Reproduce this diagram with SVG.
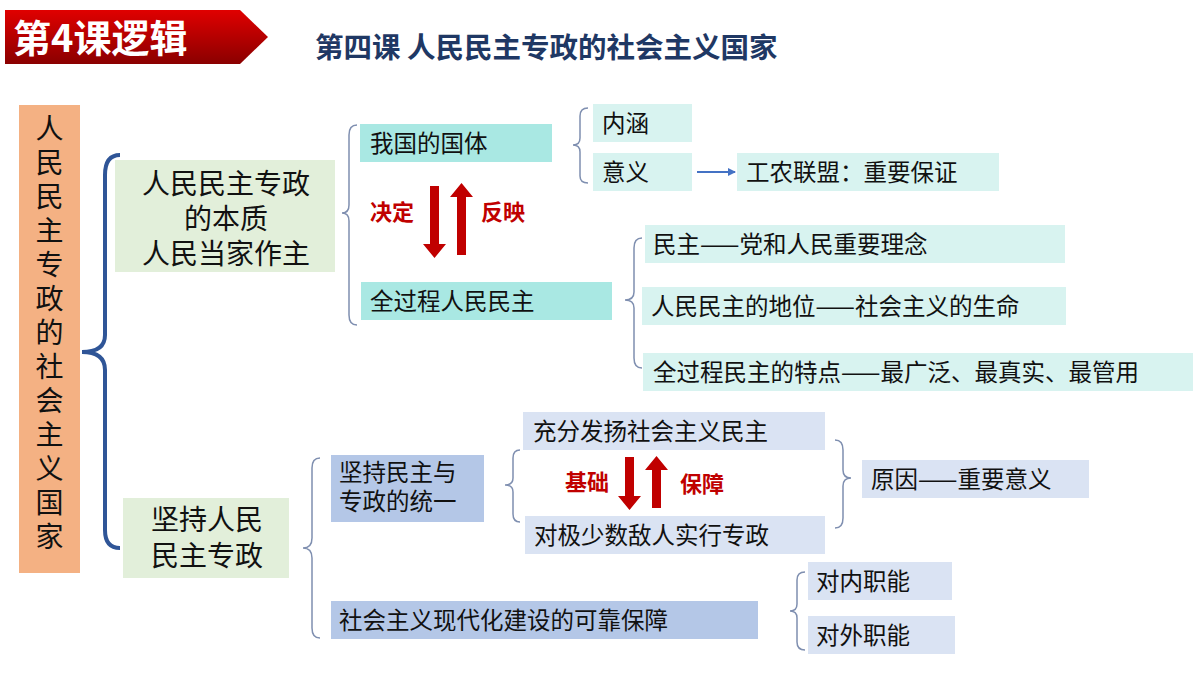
<svg xmlns="http://www.w3.org/2000/svg" width="1200" height="675" viewBox="0 0 1200 675">
<defs>
<linearGradient id="rg" x1="0" y1="0" x2="0" y2="1"><stop offset="0" stop-color="#e00000"/><stop offset="1" stop-color="#8a0000"/></linearGradient>
<marker id="ba" markerWidth="8" markerHeight="8" refX="7" refY="4" orient="auto" markerUnits="userSpaceOnUse"><path d="M0,0 L8,4 L0,8 Z" fill="#4472c4"/></marker>
</defs>
<style>
text{font-family:"Noto Sans CJK SC","Noto Sans",sans-serif;fill:#111;font-size:23.5px}
.t{fill:#a9e8e3}.l{fill:#d8f3f0}.g{fill:#e2efda}.b{fill:#b4c7e7}.p{fill:#dae3f3}
.br{fill:none;stroke:#7f8fb0;stroke-width:1.5}
.rd{fill:#c00000;font-weight:bold;font-size:22px}
.ra{fill:#c00000}
.big{font-size:28px}
.v{font-size:28px}
</style>
<rect width="1200" height="675" fill="#fff"/>
<g id="banner"><path d="M5,10 H240 L268,37 L240,64 H5 Z" fill="url(#rg)"/><text x="13" y="52" style="fill:#fff;font-weight:bold;font-size:38px">第4课逻辑</text></g>
<text x="315" y="58" style="fill:#1f3864;font-weight:bold;font-size:28.5px">第四课 人民民主专政的社会主义国家</text>
<g id="root"><rect x="19" y="105" width="61" height="468" fill="#f4b183"/>
<text class="v" x="49.5" y="139" text-anchor="middle">人</text><text class="v" x="49.5" y="173" text-anchor="middle">民</text><text class="v" x="49.5" y="207" text-anchor="middle">民</text><text class="v" x="49.5" y="241" text-anchor="middle">主</text><text class="v" x="49.5" y="275" text-anchor="middle">专</text><text class="v" x="49.5" y="309" text-anchor="middle">政</text><text class="v" x="49.5" y="343" text-anchor="middle">的</text><text class="v" x="49.5" y="377" text-anchor="middle">社</text><text class="v" x="49.5" y="411" text-anchor="middle">会</text><text class="v" x="49.5" y="445" text-anchor="middle">主</text><text class="v" x="49.5" y="479" text-anchor="middle">义</text><text class="v" x="49.5" y="513" text-anchor="middle">国</text><text class="v" x="49.5" y="547" text-anchor="middle">家</text></g>
<g id="connectors">
<path d="M120,155 Q105,155 105,175 V335 Q105,352 82,352 Q105,352 105,370 V530 Q105,548 120,548" fill="none" stroke="#2f5597" stroke-width="4"/>
<path class="br" d="M357,125 Q349,125 349,135 V205 Q349,213 342,213 Q349,213 349,221 V315 Q349,325 357,325"/>
<path class="br" d="M588,108 Q580,108 580,116 V138 Q580,145 573,145 Q580,145 580,152 V176 Q580,183 588,183"/>
<path class="br" d="M642,238 Q634,238 634,248 V292 Q634,300 625,300 Q634,300 634,308 V358 Q634,368 642,368"/>
<path class="br" d="M320,458 Q312,458 312,468 V538 Q312,548 303,548 Q312,548 312,558 V628 Q312,638 320,638"/>
<path class="br" d="M520,450 Q513,450 513,458 V478 Q513,485 505,485 Q513,485 513,492 V514 Q513,522 520,522"/>
<path class="br" d="M835,440 Q843,440 843,450 V470 Q843,478 851,478 Q843,478 843,486 V518 Q843,528 835,528"/>
<path class="br" d="M805,572 Q797,572 797,580 V604 Q797,611 790,611 Q797,611 797,618 V642 Q797,650 805,650"/>
<path d="M697,172 H735" stroke="#4472c4" stroke-width="2" marker-end="url(#ba)"/>
<path class="ra" d="M430,186 H439 V244 H446 L434.5,258 L423,244 H430 Z"/>
<path class="ra" d="M457,255 H466 V197 H473 L461.5,183 L450,197 H457 Z"/>
<path class="ra" d="M625,457 H634 V496 H641 L629.5,510 L618,496 H625 Z"/>
<path class="ra" d="M652,508 H661 V470 H668 L656.5,456 L645,470 H652 Z"/>
</g>
<text class="rd" x="370" y="220">决定</text><text class="rd" x="481" y="220">反映</text>
<text class="rd" x="565" y="490">基础</text><text class="rd" x="680" y="492">保障</text>
<g id="n1"><rect class="g" x="115" y="160" width="220" height="112"/><text class="big" text-anchor="middle"><tspan x="226" y="194">人民民主专政</tspan><tspan x="226" y="229">的本质</tspan><tspan x="226" y="264">人民当家作主</tspan></text></g>
<g id="n2"><rect class="g" x="123" y="498" width="166" height="80"/><text class="big" text-anchor="middle"><tspan x="207" y="530">坚持人民</tspan><tspan x="207" y="566">民主专政</tspan></text></g>
<g id="n3"><rect class="t" x="360" y="124" width="192" height="38"/><text x="370" y="152">我国的国体</text></g>
<g id="n4"><rect class="t" x="361" y="282" width="251" height="38"/><text x="370" y="310">全过程人民民主</text></g>
<g id="n5"><rect class="l" x="593" y="104" width="99" height="38"/><text x="602" y="132">内涵</text></g>
<g id="n6"><rect class="l" x="593" y="153" width="99" height="38"/><text x="602" y="181">意义</text></g>
<g id="n7"><rect class="l" x="737" y="153" width="262" height="38"/><text x="746" y="181">工农联盟：重要保证</text></g>
<g id="n8"><rect class="l" x="645" y="225" width="420" height="38"/><text x="653" y="253">民主——党和人民重要理念</text></g>
<g id="n9"><rect class="l" x="642" y="287" width="424" height="38"/><text x="651" y="315">人民民主的地位——社会主义的生命</text></g>
<g id="n10"><rect class="l" x="643" y="353" width="550" height="38"/><text x="653" y="381">全过程民主的特点——最广泛、最真实、最管用</text></g>
<g id="n11"><rect class="b" x="331" y="455" width="153" height="67"/><text><tspan x="339" y="481">坚持民主与</tspan><tspan x="339" y="510">专政的统一</tspan></text></g>
<g id="n12"><rect class="p" x="523" y="412" width="302" height="38"/><text x="533" y="440">充分发扬社会主义民主</text></g>
<g id="n13"><rect class="p" x="525" y="516" width="300" height="38"/><text x="534" y="544">对极少数敌人实行专政</text></g>
<g id="n14"><rect class="p" x="862" y="460" width="227" height="38"/><text x="871" y="488">原因——重要意义</text></g>
<g id="n15"><rect class="b" x="331" y="601" width="427" height="38"/><text x="339" y="629">社会主义现代化建设的可靠保障</text></g>
<g id="n16"><rect class="p" x="808" y="562" width="144" height="38"/><text x="816" y="590">对内职能</text></g>
<g id="n17"><rect class="p" x="808" y="616" width="147" height="38"/><text x="816" y="644">对外职能</text></g>
</svg>
